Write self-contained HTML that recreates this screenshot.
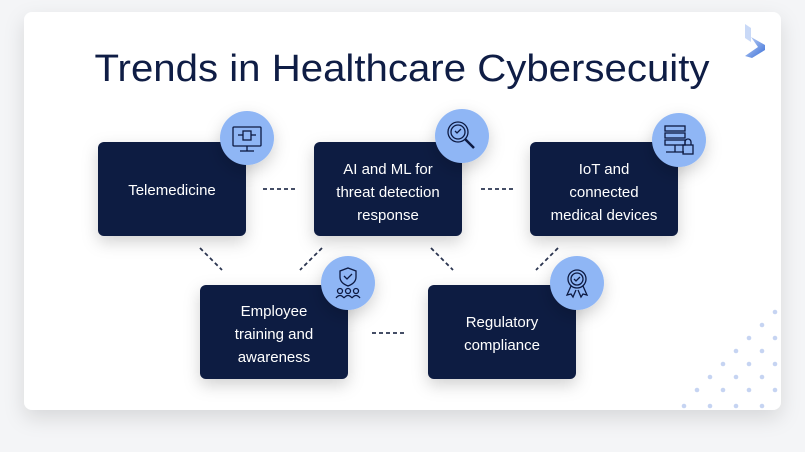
<!DOCTYPE html>
<html><head><meta charset="utf-8"><style>
html,body{margin:0;padding:0;background:#f4f5f7;}
body{width:805px;height:447px;overflow:hidden;font-family:"Liberation Sans",sans-serif;}
</style></head><body>
<svg width="805" height="447" viewBox="0 0 805 447" xmlns="http://www.w3.org/2000/svg">
<defs>
<filter id="sh" x="-20%" y="-20%" width="140%" height="150%"><feDropShadow dx="0" dy="6" stdDeviation="8" flood-color="#000" flood-opacity="0.18"/></filter>
<filter id="sh2" x="-10%" y="-10%" width="120%" height="130%"><feDropShadow dx="0" dy="8" stdDeviation="10" flood-color="#000" flood-opacity="0.12"/></filter>
<linearGradient id="lg" x1="0" y1="0" x2="1" y2="1"><stop offset="0" stop-color="#c9d9f7"/><stop offset="1" stop-color="#3a6fd8"/></linearGradient>
</defs>
<rect width="805" height="447" fill="#f4f5f7"/>
<rect x="24" y="12" width="757" height="398" rx="8" fill="#fff" filter="url(#sh2)"/>
<!-- logo -->
<path d="M745 24 L751 28 L751 42 L745 38Z" fill="#c9d9f7"/>
<path d="M751 37 L765 45 L765 50 L752 58 L745 56 L758 47Z" fill="url(#lg)"/>
<text x="402" y="81" text-anchor="middle" font-size="38" fill="#0f1d45" textLength="615" lengthAdjust="spacingAndGlyphs">Trends in Healthcare Cybersecuity</text>
<!-- dashes -->
<g stroke="#2b3550" stroke-width="1.8" stroke-dasharray="4,3" fill="none">
<line x1="263" y1="189" x2="298" y2="189"/>
<line x1="481" y1="189" x2="515" y2="189"/>
<line x1="372" y1="333" x2="406" y2="333"/>
<line x1="200" y1="248" x2="222" y2="270"/>
<line x1="322" y1="248" x2="300" y2="270"/>
<line x1="431" y1="248" x2="453" y2="270"/>
<line x1="558" y1="248" x2="536" y2="270"/>
</g>
<!-- boxes -->
<g fill="#0d1a42" filter="url(#sh)">
<rect x="98" y="142" width="148" height="94" rx="6"/>
<rect x="314" y="142" width="148" height="94" rx="6"/>
<rect x="530" y="142" width="148" height="94" rx="6"/>
<rect x="200" y="285" width="148" height="94" rx="6"/>
<rect x="428" y="285" width="148" height="94" rx="6"/>
</g>
<g fill="#fff" font-size="15" text-anchor="middle">
<text x="172" y="195">Telemedicine</text>
<text x="388" y="174">AI and ML for</text>
<text x="388" y="197">threat detection</text>
<text x="388" y="220">response</text>
<text x="604" y="174">IoT and</text>
<text x="604" y="197">connected</text>
<text x="604" y="220">medical devices</text>
<text x="274" y="316">Employee</text>
<text x="274" y="339">training and</text>
<text x="274" y="362">awareness</text>
<text x="502" y="327">Regulatory</text>
<text x="502" y="350">compliance</text>
</g>
<!-- icon circles -->
<g fill="#8fb6f5" filter="url(#sh)">
<circle cx="247" cy="138" r="27"/>
<circle cx="462" cy="136" r="27"/>
<circle cx="679" cy="140" r="27"/>
<circle cx="348" cy="283" r="27"/>
<circle cx="577" cy="283" r="27"/>
</g>
<g stroke="#0d1a42" stroke-width="1.3" fill="none">
<rect x="233" y="127" width="28" height="19" rx="1"/><line x1="247" y1="146" x2="247" y2="151"/><line x1="240" y1="151" x2="254" y2="151"/><rect x="243" y="131" width="8" height="9"/><line x1="238" y1="135" x2="243" y2="135"/><line x1="251" y1="135" x2="256" y2="135"/>
<circle cx="458" cy="132" r="10"/><circle cx="458" cy="132" r="7"/><line x1="465" y1="139" x2="474" y2="148" stroke-width="2.5"/><path d="M455 131 l2 2 l4 -4"/>
<rect x="665" y="126" width="20" height="5"/><rect x="665" y="133" width="20" height="5"/><rect x="665" y="140" width="20" height="5"/><line x1="675" y1="145" x2="675" y2="152"/><line x1="666" y1="152" x2="684" y2="152"/><rect x="683" y="145" width="10" height="9"/><path d="M685 145 v-3 a3 3 0 0 1 6 0 v3"/>
<path d="M348 268 l8 3 v6 q0 6 -8 9 q-8 -3 -8 -9 v-6z"/><path d="M344 276 l3 3 l5 -5"/><circle cx="340" cy="291" r="2.5"/><circle cx="348" cy="291" r="2.5"/><circle cx="356" cy="291" r="2.5"/><path d="M336 298 q4 -5 8 0 M344 298 q4 -5 8 0 M352 298 q4 -5 8 0"/>
<circle cx="577" cy="279" r="9"/><circle cx="577" cy="279" r="6"/><path d="M574 279 l2 2 l4 -4"/><path d="M571 286 l-4 9 l4 -1 l2 3 l3 -7 M583 286 l4 9 l-4 -1 l-2 3 l-3 -7"/>
</g>
<!-- dots -->
<g fill="#c6d4f2">
<circle cx="775" cy="312" r="2.3"/>
<circle cx="762" cy="325" r="2.3"/>
<circle cx="749" cy="338" r="2.3"/><circle cx="775" cy="338" r="2.3"/>
<circle cx="736" cy="351" r="2.3"/><circle cx="762" cy="351" r="2.3"/>
<circle cx="723" cy="364" r="2.3"/><circle cx="749" cy="364" r="2.3"/><circle cx="775" cy="364" r="2.3"/>
<circle cx="710" cy="377" r="2.3"/><circle cx="736" cy="377" r="2.3"/><circle cx="762" cy="377" r="2.3"/>
<circle cx="697" cy="390" r="2.3"/><circle cx="723" cy="390" r="2.3"/><circle cx="749" cy="390" r="2.3"/><circle cx="775" cy="390" r="2.3"/>
<circle cx="684" cy="406" r="2.3"/><circle cx="710" cy="406" r="2.3"/><circle cx="736" cy="406" r="2.3"/><circle cx="762" cy="406" r="2.3"/>
</g>
</svg>
</body></html>
